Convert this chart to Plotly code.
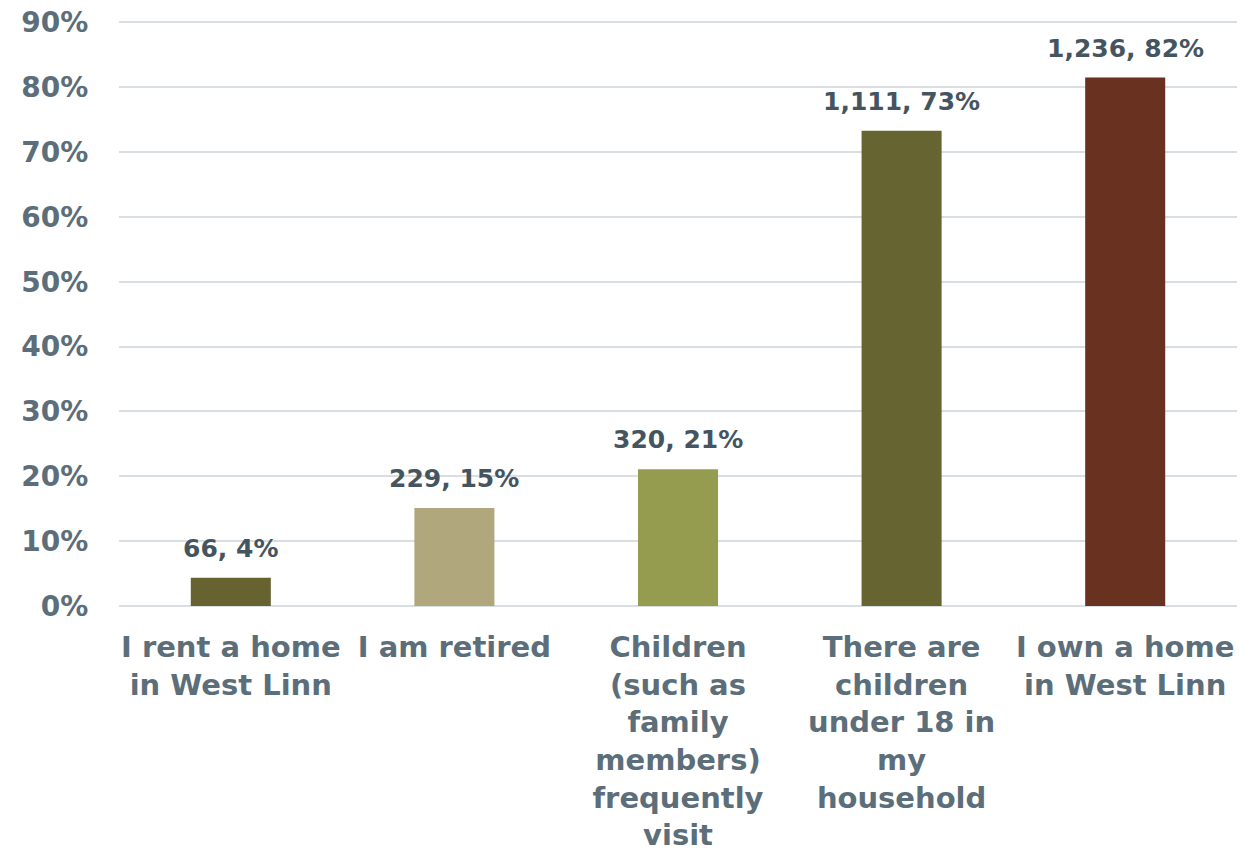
import plotly.graph_objects as go

categories = [
    "I rent a home<br>in West Linn",
    "I am retired",
    "Children<br>(such as<br>family<br>members)<br>frequently<br>visit",
    "There are<br>children<br>under 18 in<br>my<br>household",
    "I own a home<br>in West Linn",
]
counts = [66, 229, 320, 1111, 1236]
percents = [4.35, 15.1, 21.1, 73.3, 81.5]
pct_labels = ["4%", "15%", "21%", "73%", "82%"]
colors = ["#666330", "#B1A77C", "#959C50", "#666430", "#683120"]
y_ticks = [0, 10, 20, 30, 40, 50, 60, 70, 80, 90]

labels = [f"{c:,}, {p}" for c, p in zip(counts, pct_labels)]
y_ticktext = [f"{v}%" for v in y_ticks]

FONT = "DejaVu Sans"
TICK_SIZE = 28
XTICK_SIZE = 29
LABEL_SIZE = 25
WEIGHT = "bold"
TICK_COLOR = "#5C6E7A"
LABEL_COLOR = "#45555F"

fig = go.Figure(
    go.Bar(
        x=categories,
        y=percents,
        marker=dict(color=colors, line=dict(width=0)),
        hoverinfo="skip",
    )
)

for cat, val, lab in zip(categories, percents, labels):
    fig.add_annotation(
        x=cat, y=val, text=lab, showarrow=False,
        xanchor="center", yanchor="bottom", yshift=13,
        font=dict(family=FONT, size=LABEL_SIZE, color=LABEL_COLOR, weight=WEIGHT),
    )

fig.update_layout(
    width=1251,
    height=857,
    margin=dict(l=119, r=14, t=16, b=251),
    paper_bgcolor="white",
    plot_bgcolor="white",
    bargap=0.642,
    showlegend=False,
    font=dict(family=FONT, color=TICK_COLOR, size=TICK_SIZE, weight=WEIGHT),
    xaxis=dict(
        automargin=False,
        showgrid=False,
        showline=False,
        tickfont=dict(family=FONT, size=XTICK_SIZE, color=TICK_COLOR, weight=WEIGHT),
        ticks="outside",
        ticklen=15,
        tickcolor="rgba(0,0,0,0)",
    ),
    yaxis=dict(
        automargin=False,
        range=[0, 91],
        tickmode="array",
        tickvals=y_ticks,
        ticktext=y_ticktext,
        ticklabeloverflow="allow",
        showgrid=True,
        gridcolor="#D9DEE3",
        gridwidth=2,
        zeroline=True,
        zerolinecolor="#D9DEE3",
        zerolinewidth=2,
        showline=False,
        ticks="outside",
        ticklen=24,
        tickcolor="rgba(0,0,0,0)",
        tickfont=dict(family=FONT, size=TICK_SIZE, color=TICK_COLOR, weight=WEIGHT),
    ),
)

fig.write_html(
    "out.html",
    config={"displayModeBar": False},
    post_script="document.body.style.margin='0';document.body.style.overflow='hidden';",
)
